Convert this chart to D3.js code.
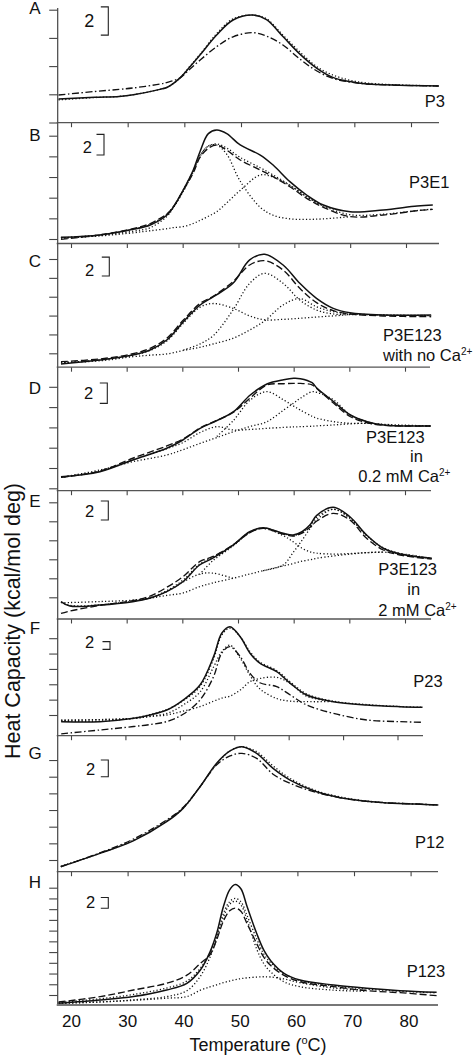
<!DOCTYPE html>
<html><head><meta charset="utf-8">
<script src="https://cdn.jsdelivr.net/npm/d3@7"></script>
<style>html,body{margin:0;padding:0;background:#fff;} svg{display:block;font-family:Arial,"Liberation Sans",Helvetica,sans-serif;}</style>
</head><body><svg id="c" width="475" height="1057"></svg>
<script>
// ---------- DATA (temperature in °C, heat capacity in kcal/mol/deg, offset per panel) ----------
const xTickValues = [20, 30, 40, 50, 60, 70, 80];
const panelLetters = ["A", "B", "C", "D", "E", "F", "G", "H"];
const yAxisTitle = "Heat Capacity (kcal/mol deg)";
const xAxisTitle = "Temperature (";

// Panel A  P3
const tA = [17.8, 24.2, 28.5, 31, 35.7, 37, 39.2, 41, 42.8, 45.7, 48.6, 52.1, 54.5, 57.4, 60.4, 63.4, 66.2, 69.2, 72.2, 78, 84.9];
const aSolid = [1.67, 1.79, 1.85, 1.97, 2.35, 2.5, 3.15, 3.95, 4.8, 6.2, 7.27, 7.62, 7.3, 6.1, 4.85, 3.84, 3.2, 2.9, 2.73, 2.64, 2.59];
const aDashDot = [1.95, 2.2, 2.35, 2.45, 2.73, 2.85, 3.15, 3.8, 4.43, 5.38, 6.08, 6.37, 6.13, 5.5, 4.5, 3.65, 3.13, 2.87, 2.73, 2.64, 2.59];
const aDotted = [1.6, 1.77, 1.85, 1.97, 2.35, 2.5, 3.15, 4.0, 4.85, 6.3, 7.35, 7.62, 7.35, 6.2, 5.0, 3.95, 3.37, 3.0, 2.8, 2.66, 2.6];

// Panel B  P3E1
const tB = [18.2, 25.2, 31.1, 34.2, 37.2, 38.3, 40.1, 41.9, 43.1, 44.6, 46.1, 47.9, 50.3, 53.9, 56.2, 59.2, 62.2, 65.2, 70, 75.9, 82, 84.8];
const bSolid = [0.16, 0.39, 0.94, 1.36, 2.32, 3.07, 4.74, 6.68, 8.45, 10.2, 10.55, 10.2, 9.1, 8.13, 7.16, 5.55, 4.26, 3.29, 2.64, 2.81, 3.19, 3.29];
const bDashed = [-0.03, 0.4, 1.0, 1.5, 2.45, 3.1, 4.7, 6.4, 7.9, 8.78, 9.1, 8.6, 7.65, 6.68, 6.03, 5.06, 3.94, 3.07, 2.16, 2.32, 2.74, 2.87];
const bFitSum = [0.1, 0.4, 0.95, 1.42, 2.4, 3.1, 4.75, 6.6, 8.1, 9.0, 9.2, 8.8, 7.9, 6.9, 6.2, 5.2, 4.1, 3.2, 2.35, 2.4, 2.75, 2.9];
const bComp1 = [0.1, 0.35, 0.75, 1.1, 2.2, 3.0, 4.6, 6.5, 8.0, 9.0, 9.1, 8.2, 5.6, 3.07, 2.3, 1.95, 1.9, 1.95, 2.16, null, null, null];
const bComp2 = [0.1, 0.3, 0.6, 0.8, 1.0, 1.1, 1.2, 1.5, 1.8, 2.2, 2.64, 3.5, 4.7, 6.2, 6.0, 5.2, 4.1, 3.2, null, null, null, null];

// Panel C  P3E123 with no Ca2+
const tC = [18.2, 25.2, 31.1, 34.2, 37.2, 40.2, 43.2, 45.6, 49.1, 52.1, 54.8, 58.1, 61.1, 64.1, 67.1, 70.1, 76.1, 84.7];
const cSolid = [-1.13, -0.71, -0.18, 0.35, 1.41, 3.35, 5.12, 6.0, 7.42, 9.9, 10.5, 9.36, 7.42, 5.83, 4.77, 4.3, 4.06, 4.06];
const cDashed = [-0.89, -0.6, -0.05, 0.53, 1.59, 3.53, 5.3, 6.07, 7.6, 9.36, 9.82, 8.83, 6.89, 5.37, 4.52, 4.17, 3.96, 3.88];
const cComp1 = [-1.0, -0.7, -0.2, 0.3, 1.3, 3.2, 4.9, 5.28, 4.77, 3.96, 3.55, 3.6, 3.71, 3.85, 3.96, 4.1, 4.06, 4.0];
const cComp2 = [null, null, null, null, null, 0.35, 1.0, 1.9, 4.59, 7.42, 8.48, 7.42, 5.65, 4.59, 4.17, 4.1, null, null];
const cComp3 = [-1.0, -0.8, -0.36, -0.2, -0.07, 0.3, 0.64, 1.0, 1.59, 2.47, 3.45, 5.12, 5.8, 4.94, 4.41, 4.2, 4.06, 4.0];

// Panel D  P3E123 in 0.2 mM Ca2+
const tD = [18.2, 25.2, 31.1, 37.2, 40.1, 43.2, 46.2, 49.2, 52.2, 55.2, 58.2, 60, 61.2, 63.3, 64.2, 67.2, 70.2, 73.2, 76.2, 84.6];
const dSolid = [1.14, 1.64, 2.79, 3.94, 4.76, 5.91, 6.66, 7.55, 9.19, 10.28, 10.7, 10.84, 10.8, 10.4, 9.85, 8.53, 7.22, 6.56, 6.24, 6.14];
const dDashed = [1.08, 1.7, 2.96, 4.17, 4.85, 5.95, 6.7, 7.5, 8.9, 10.18, 10.3, 10.34, 10.33, 10.2, 9.8, 8.37, 7.05, 6.46, 6.2, 6.14];
const dComp1 = [1.08, 1.7, 2.8, 3.9, 4.5, 5.5, 6.07, 5.74, 5.8, 5.91, 6.0, 6.05, 6.07, 6.12, 6.15, 6.24, 6.35, 6.4, 6.3, 6.14];
const dComp2 = [null, null, null, null, null, null, 5.1, 6.7, 8.7, 9.52, 8.7, 8.1, 7.71, 7.1, 6.9, 6.56, 6.4, 6.4, null, null];
const dComp3 = [1.08, 1.8, 2.62, 3.28, 3.8, 4.43, 5.0, 5.58, 6.1, 6.56, 7.71, 8.4, 8.87, 9.52, 9.45, 8.7, 7.22, 6.56, 6.24, 6.14];

// Panel E  P3E123 in 2 mM Ca2+
const tE = [18.2, 19.8, 25.2, 31.1, 34.1, 37.2, 40.1, 43.1, 45.4, 49.1, 52.1, 54.5, 58.1, 59.9, 61.5, 62.9, 64.1, 67.1, 70.1, 73.1, 76.1, 79.1, 84.8];
const eSolid = [-0.45, -0.92, -0.81, -0.46, -0.11, 0.59, 1.64, 3.4, 4.1, 5.5, 6.9, 7.33, 6.74, 6.56, 6.9, 7.6, 8.6, 9.47, 8.48, 6.56, 5.16, 4.56, 4.1];
const eDashed = [-1.7, -1.45, -0.85, -0.35, 0.1, 1.05, 2.17, 3.75, 4.27, 5.5, 6.8, 7.26, 6.66, 6.45, 6.75, 7.35, 8.0, 8.84, 8.14, 6.21, 4.98, 4.45, 4.03];
const eFitSum = [-0.5, -0.85, -0.8, -0.4, -0.05, 0.7, 1.8, 3.5, 4.2, 5.5, 6.85, 7.3, 6.7, 6.5, 6.85, 7.5, 8.4, 9.26, 8.35, 6.5, 5.2, 4.6, 4.1];
const eBase = [-0.55, -0.55, -0.45, -0.3, -0.1, 0.2, 0.45, 1.12, 1.5, 2.0, 2.45, 2.8, 3.3, 3.55, 3.8, 3.95, 4.1, 4.35, 4.55, 4.7, 4.75, 4.6, 4.1];
const eComp1 = [null, null, null, -0.3, -0.1, 0.6, 1.6, 2.45, 2.55, 2.0, null, null, null, null, null, null, null, null, null, null, null, null, null];
const eComp2 = [null, null, null, null, null, null, null, 2.4, 3.8, 5.4, 6.8, 7.25, 6.5, 5.85, 5.16, 4.8, 4.65, 4.55, 4.6, 4.7, 4.75, null, null];
const eComp3 = [null, null, null, null, null, null, null, null, null, null, null, 2.8, 3.4, 4.7, 6.0, 7.2, 8.14, 9.26, 8.32, 6.5, 5.2, 4.6, 4.1];

// Panel F  P23
const tF = [18.2, 25.3, 31.5, 34.5, 37.6, 40.6, 43.7, 46.2, 47.7, 49.2, 51.1, 52.9, 54.7, 57.8, 60.3, 63.3, 68.2, 74.4, 80.5, 84.6];
const fSolid = [-1.74, -1.74, -0.87, 0, 1.3, 3.9, 7.8, 15.2, 21.3, 23.0, 20.4, 16.1, 13.5, 11.3, 8.25, 5.2, 3.47, 2.6, 2.17, 2.0];
const fDashDot = [-4.9, -3.9, -3.0, -2.5, -1.7, 0.2, 3.9, 10.0, 16.1, 17.8, 15.2, 10.85, 8.4, 7.4, 5.2, 2.6, 0.43, -1.3, -1.74, -1.91];
const fFitSum = [-1.6, -1.6, -0.8, 0.1, 1.4, 3.7, 7.4, 14.6, 20.8, 22.6, 20.4, 16.5, 13.8, 11.6, 8.6, 5.5, 3.6, 2.7, 2.2, 2.0];
const fComp1 = [-1.5, -1.2, -0.9, -0.3, 0.4, 2.6, 6.0, 12.5, 16.5, 18.2, 14.8, 10.3, 6.8, 4.3, 3.6, 3.47, 3.47, null, null, null];
const fComp2 = [-1.3, -1.2, -0.9, -0.4, 0, 1.0, 2.17, 3.6, 4.4, 4.9, 6.5, 8.7, 9.5, 9.8, 8.2, 4.9, 3.5, null, null, null];

// Panel G  P12
const tG = [18.2, 25.1, 31, 36.9, 39.8, 42.8, 45.7, 48.1, 50.2, 52.8, 55.7, 58.7, 63.4, 69.3, 75.2, 81.1, 84.9];
const gSolid = [-0.8, 0.8, 2.3, 4.6, 6.2, 8.8, 11.6, 13.1, 13.6, 12.8, 11.0, 9.6, 8.2, 7.28, 6.88, 6.72, 6.6];
const gDashDot = [-0.8, 0.85, 2.5, 4.8, 6.3, 8.8, 11.4, 12.5, 12.8, 12.2, 10.3, 9.2, 8.1, 7.28, 6.88, 6.72, 6.6];
const gDotted = [-0.75, 0.8, 2.35, 4.7, 6.2, 8.8, 11.5, 13.1, 13.6, 13.0, 11.3, 9.8, 8.3, 7.35, 6.9, 6.72, 6.6];

// Panel H  P123
const tH = [17.8, 25.2, 31.1, 37, 40.6, 43, 44.7, 45.9, 47.1, 48.2, 49.2, 50.2, 51.3, 53, 54.3, 55.5, 57.8, 60.7, 66.7, 72.6, 78.5, 85];
const hSolid = [-1.55, -0.93, -0.3, 0.93, 2.18, 4.66, 8.0, 11.5, 16.5, 19.6, 20.6, 19.8, 16.5, 11.5, 8.3, 6.4, 4.1, 2.8, 1.86, 1.25, 0.8, 0.5];
const hDashed = [-1.3, -0.3, 0.93, 2.18, 3.7, 5.9, 7.5, 10.3, 13.8, 15.7, 16.2, 15.6, 13.3, 9.6, 7.0, 5.5, 3.7, 2.48, 1.55, 0.8, 0.43, -0.12];
const hFitSum = [-1.4, -0.7, 0.1, 1.3, 2.6, 5.0, 7.8, 11.0, 15.2, 17.4, 18.0, 17.4, 14.8, 10.5, 7.6, 6.0, 4.0, 2.7, 1.7, 1.1, 0.7, 0.4];
const hComp1 = [-1.5, -1.3, -0.9, -0.3, 0.8, 3.5, 7.0, 10.5, 14.5, 16.9, 17.5, 16.8, 14.0, 8.6, 5.8, 4.3, 2.5, 1.55, 0.9, 0.7, null, null];
const hComp2 = [-1.6, -1.3, -1.0, -0.6, -0.3, 0.9, 1.5, 1.9, 2.3, 2.6, 2.85, 3.05, 3.2, 3.35, 3.4, 3.35, 3.0, 2.3, 1.3, 0.9, null, null];

// ---------- LAYOUT ----------
const panels = [
  {t: tA, curves: [[aDotted, "dot"], [aDashDot, "dashdot"], [aSolid, "solid"]],
   top: 8, bottom: 122.7, right: 439, x80: 411, y0: 122.5, k: 14.1, ticks: [0, 2, 4, 6, 8],
   br: 6.2, brX: 108.3, twoX: 84.3, twoY: 26.7, twoFs: 18, letY: 13.5,
   labels: [{lines: [["P3"]], x: 445, ys: [107.3], anchor: "end"}]},
  {t: tB, curves: [[bComp1, "dot"], [bComp2, "dot"], [bFitSum, "dot"], [bDashed, "dash"], [bSolid, "solid"]],
   top: 122.7, bottom: 243.5, right: 439, x80: 406, y0: 239, k: 10.33, ticks: [0, 2, 4, 6, 8, 10],
   br: 8.13, brX: 104, twoX: 82.7, twoY: 152.7, twoFs: 16.5, letY: 141,
   labels: [{lines: [["P3E1"]], x: 409, ys: [188.3], anchor: "start"}]},
  {t: tC, curves: [[cComp1, "dot"], [cComp2, "dot"], [cComp3, "dot"], [cDashed, "dash"], [cSolid, "solid"]],
   top: 243.5, bottom: 367.2, right: 430, x80: 405, y0: 353.3, k: 9.43, ticks: [0, 2, 4, 6, 8, 10],
   br: 8.2, brX: 109.3, twoX: 85, twoY: 276, twoFs: 16.5, letY: 267,
   labels: [{lines: [["P3E123"], ["with no Ca", "2+"]], x: 383, ys: [340.7, 360.7], anchor: "start"}]},
  {t: tD, curves: [[dComp1, "dot"], [dComp2, "dot"], [dComp3, "dot"], [dDashed, "dash"], [dSolid, "solid"]],
   top: 367.2, bottom: 490.7, right: 431, x80: 405, y0: 488.3, k: 10.15, ticks: [0, 2, 4, 6, 8, 10],
   br: 8.37, brX: 107.3, twoX: 84, twoY: 399.3, twoFs: 16.5, letY: 393.5,
   labels: [{lines: [["P3E123"]], x: 366, ys: [443.3], anchor: "start"},
            {lines: [["in"]], x: 410, ys: [461.7], anchor: "start"},
            {lines: [["0.2 mM Ca", "2+"]], x: 358.3, ys: [481.7], anchor: "start"}]},
  {t: tE, curves: [[eBase, "dot"], [eComp1, "dot"], [eComp2, "dot"], [eComp3, "dot"], [eFitSum, "dot"], [eDashed, "dash"], [eSolid, "solid"]],
   top: 490.7, bottom: 619, right: 431, x80: 405, y0: 597.3, k: 9.5, ticks: [0, 2, 4, 6, 8, 10],
   br: 8.14, brX: 108.3, twoX: 85, twoY: 516.7, twoFs: 16.5, letY: 507,
   labels: [{lines: [["P3E123"]], x: 378.3, ys: [575], anchor: "start"},
            {lines: [["in"]], x: 407.3, ys: [595], anchor: "start"},
            {lines: [["2 mM Ca", "2+"]], x: 378.3, ys: [616], anchor: "start"}]},
  {t: tF, curves: [[fComp1, "dot"], [fComp2, "dot"], [fFitSum, "dot"], [fDashDot, "dashdot"], [fSolid, "solid"]],
   top: 619, bottom: 735.7, right: 423, x80: 397.5, y0: 715, k: 3.84, ticks: [0, 4, 8, 12, 16, 20],
   br: 17.1, brX: 110, twoX: 85, twoY: 648.3, twoFs: 16.5, letY: 633.5,
   labels: [{lines: [["P23"]], x: 413.3, ys: [687], anchor: "start"}]},
  {t: tG, curves: [[gDotted, "dot"], [gDashDot, "dashdot"], [gSolid, "solid"]],
   top: 735.7, bottom: 871.7, right: 438, x80: 410.6, y0: 860, k: 8.33, ticks: [0, 2, 4, 6, 8, 10, 12],
   br: 10.0, brX: 108.3, twoX: 86, twoY: 775, twoFs: 16.5, letY: 759,
   labels: [{lines: [["P12"]], x: 415, ys: [848], anchor: "start"}]},
  {t: tH, curves: [[hComp1, "dot"], [hComp2, "dot"], [hFitSum, "dot"], [hDashed, "dash"], [hSolid, "solid"]],
   top: 871.7, bottom: 1005, right: 438, x80: 408.5, y0: 995, k: 5.365, ticks: [0, 2, 4, 6, 8, 10, 12, 14, 16, 18, 20],
   br: 16.16, brX: 108.3, twoX: 86, twoY: 908.3, twoFs: 16.5, letY: 888,
   labels: [{lines: [["P123"]], x: 406.7, ys: [977], anchor: "start"}]}
];

const styles = {
  solid: {dash: null, w: 1.5},
  dash: {dash: "7,3", w: 1.35},
  dashdot: {dash: "7,2.5,1.5,2.5", w: 1.35},
  dot: {dash: "1.2,2.2", w: 1.3}
};

const svg = d3.select("#c");
const axisColor = "#444";
const leftX = 57.7;

panels.forEach((p, pi) => {
  const x = d3.scaleLinear().domain([20, 80]).range([71, p.x80]);
  const y = d3.scaleLinear().domain([0, 1]).range([p.y0, p.y0 - p.k]);
  const g = svg.append("g");

  // curves
  const line = d3.line()
    .defined(d => d[1] != null)
    .x(d => x(d[0])).y(d => y(d[1]))
    .curve(d3.curveCatmullRom.alpha(0.5));
  p.curves.forEach(([vals, st]) => {
    const s = styles[st];
    g.append("path")
      .datum(p.t.map((tt, i) => [tt, vals[i]]))
      .attr("d", line)
      .attr("fill", "none")
      .attr("stroke", "#111")
      .attr("stroke-width", s.w)
      .attr("stroke-dasharray", s.dash)
      .attr("stroke-linejoin", "round");
  });

  // left axis
  const ya = g.append("g").attr("transform", `translate(${leftX},0)`)
    .call(d3.axisLeft(y).tickValues(p.ticks).tickSize(8.5).tickFormat(""));
  ya.select(".domain").remove();
  ya.selectAll("line").attr("stroke", axisColor).attr("stroke-width", 1.1);
  g.append("line").attr("x1", leftX).attr("x2", leftX).attr("y1", p.top).attr("y2", p.bottom)
    .attr("stroke", axisColor).attr("stroke-width", 1.2);

  // bottom axis
  const isLast = pi === panels.length - 1;
  const xa = g.append("g").attr("transform", `translate(0,${p.bottom})`)
    .call(d3.axisBottom(x).tickValues(xTickValues).tickSize(isLast ? 0 : 4.5).tickPadding(isLast ? 10 : 3)
      .tickFormat(isLast ? d3.format("d") : ""));
  xa.select(".domain").remove();
  xa.selectAll("line").attr("stroke", axisColor).attr("stroke-width", 1.1);
  xa.selectAll("text").attr("font-size", 17).attr("fill", "#111").attr("font-family", "Arial, 'Liberation Sans', sans-serif");
  g.append("line").attr("x1", leftX - 1).attr("x2", p.right).attr("y1", p.bottom).attr("y2", p.bottom)
    .attr("stroke", isLast ? "#777" : "#555").attr("stroke-width", isLast ? 2 : 1.3);

  // panel letter
  g.append("text").attr("x", 35).attr("y", p.letY).attr("text-anchor", "middle")
    .attr("font-size", 17).attr("fill", "#111").text(panelLetters[pi]);

  // scale bar "2 ]"
  const yb0 = y(p.br), yb1 = y(p.br + 2);
  g.append("path")
    .attr("d", `M${p.brX - 7.5},${yb1}H${p.brX}V${yb0}H${p.brX - 7.5}`)
    .attr("fill", "none").attr("stroke", "#222").attr("stroke-width", 1.1);
  g.append("text").attr("x", p.twoX).attr("y", p.twoY).attr("font-size", p.twoFs).attr("fill", "#111").text("2");

  // sample labels
  p.labels.forEach(lb => {
    lb.lines.forEach((ln, li) => {
      const t = g.append("text").attr("x", lb.x).attr("y", lb.ys[li]).attr("text-anchor", lb.anchor)
        .attr("font-size", 16.5).attr("fill", "#111");
      t.append("tspan").text(ln[0]);
      if (ln[1]) t.append("tspan").attr("dy", -6).attr("font-size", 10).text(ln[1]);
    });
  });
});

// axis titles
svg.append("text").attr("transform", "translate(19.5,621) rotate(-90)").attr("text-anchor", "middle")
  .attr("font-size", 21.5).attr("fill", "#111").text(yAxisTitle);
const xt = svg.append("text").attr("x", 258).attr("y", 1051).attr("text-anchor", "middle")
  .attr("font-size", 18).attr("fill", "#111");
xt.append("tspan").text(xAxisTitle);
xt.append("tspan").attr("dy", -7).attr("font-size", 11).text("o");
xt.append("tspan").attr("dy", 7).text("C)");
</script></body></html>
